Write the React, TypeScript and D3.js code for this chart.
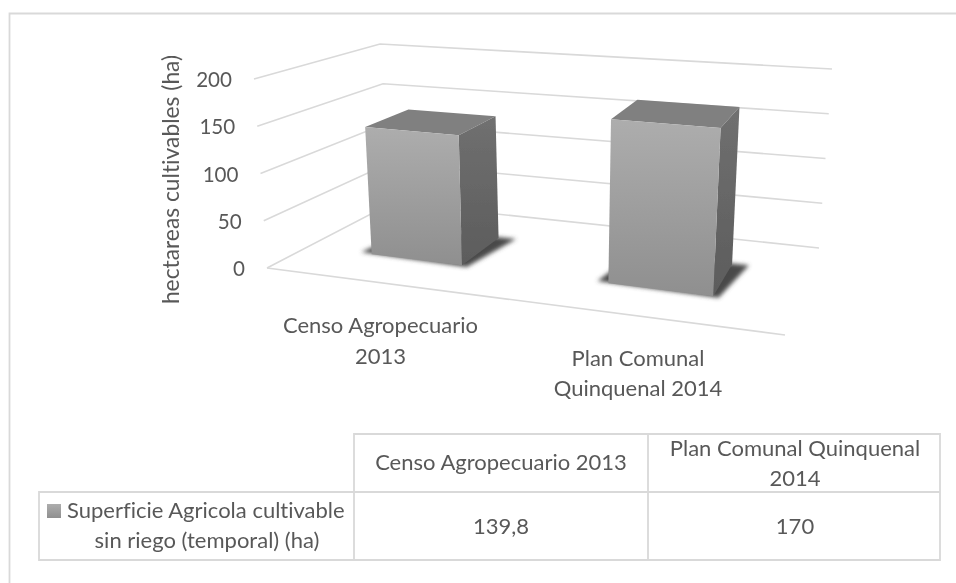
import React from "react";
import * as d3 from "d3";

const categories = ["Censo Agropecuario 2013", "Plan Comunal Quinquenal 2014"];
const categoryLines = [["Censo Agropecuario", "2013"], ["Plan Comunal", "Quinquenal 2014"]];
const values = [139.8, 170];
const valueLabels = ["139,8", "170"];
const ticks = [0, 50, 100, 150, 200];
const seriesLines = ["Superficie Agricola cultivable", "sin riego (temporal) (ha)"];
const yTitle = "hectareas cultivables (ha)";

const W = 956, H = 583;
const FONT = "Lato, 'Open Sans', sans-serif";
const TXT = "#595959";
const GRID = "#d9d9d9";
const FS = 22;
type P = [number, number];
// projected corners of the chart box: floor and top planes (front-left, front-right, back-left, back-right)
const floor: P[] = [[267, 268], [785, 335], [392, 203], [819, 248]];
const roof: P[] = [[254, 79], [798, 122], [380, 44], [832, 69]];

const vScale = d3.scaleLinear().domain([0, 200]).range([0, 1]);
const band = d3.scaleBand<string>().domain(categories).range([0, 1]).padding(0.4);
const b0 = band(categories[0])!, b1 = band(categories[1])!, w = band.bandwidth();
const uWarp = d3.scaleLinear().domain([b0, b0 + w, b1, b1 + w]).range([0.13, 0.315, 0.615, 0.83]);
const depth = [0.33, 0.71];

const mix = (a: P, b: P, t: number): P => [a[0] + (b[0] - a[0]) * t, a[1] + (b[1] - a[1]) * t];
const plane = (q: P[], u: number, d: number) => mix(mix(q[0], q[1], u), mix(q[2], q[3], u), d);
const project = (u: number, d: number, v: number) => mix(plane(floor, u, d), plane(roof, u, d), vScale(v));
const poly = (pts: P[]) => d3.line()(pts)! + "Z";

export default function App() {
  return (
    <svg width={W} height={H} style={{ position: "absolute", left: 0, top: 0, background: "#fff", fontVariantLigatures: "none" }} fontFamily={FONT} fill={TXT}>
      <defs>
        <linearGradient id="front" x1="0" y1="0" x2="0" y2="1">
          <stop offset="0" stopColor="#adadad" /><stop offset="1" stopColor="#8f8f8f" />
        </linearGradient>
        <linearGradient id="side" x1="0" y1="0" x2="0" y2="1">
          <stop offset="0" stopColor="#707070" /><stop offset="1" stopColor="#5c5c5c" />
        </linearGradient>
        <linearGradient id="swatch" x1="0" y1="0" x2="0" y2="1">
          <stop offset="0" stopColor="#adadad" /><stop offset="1" stopColor="#8f8f8f" />
        </linearGradient>
        <filter id="soft" x="-5%" y="-5%" width="110%" height="110%"><feGaussianBlur stdDeviation="0.7" /></filter>
        <filter id="softText" x="-5%" y="-5%" width="110%" height="110%"><feGaussianBlur stdDeviation="0.35" /></filter>
        <filter id="shadow" x="-20%" y="-20%" width="140%" height="140%"><feGaussianBlur stdDeviation="2" /></filter>
      </defs>
      <g filter="url(#soft)">
        {ticks.map((t) => (
          <path key={t} d={d3.line()([project(0, 0, t), project(0, 1, t), project(1, 1, t)])!} fill="none" stroke={GRID} strokeWidth={1.6} />
        ))}
        <path d={d3.line()([project(0, 0, 0), project(1, 0, 0)])!} fill="none" stroke={GRID} strokeWidth={1.6} />
        {categories.map((c, i) => {
          const u0 = uWarp(band(c)!), u1 = uWarp(band(c)! + w);
          const [d0, d1] = depth;
          const v = values[i];
          const e = 0.012;
          return (
            <g key={c}>
              <path d={poly([project(u0 - e * 2, d0 + e, 0), project(u1 + e, d0 - e, 0), project(u1 + e * 3, d1 + e, 0), project(u0, d1, 0)])} fill="#4a4a4a" filter="url(#shadow)" />
              <path d={poly([project(u0, d0, v), project(u1, d0, v), project(u1, d1, v), project(u0, d1, v)])} fill="#808080" />
              <path d={poly([project(u1, d0, v), project(u1, d1, v), project(u1, d1, 0), project(u1, d0, 0)])} fill="url(#side)" />
              <path d={poly([project(u0, d0, v), project(u1, d0, v), project(u1, d0, 0), project(u0, d0, 0)])} fill="url(#front)" />
            </g>
          );
        })}
      </g>
      <g fontSize={FS} filter="url(#softText)">
        {ticks.map((t) => (
          <text key={t} x={project(0, 0, t)[0] - 22} y={project(0, 0, t)[1] + 8} textAnchor="end" fontSize={20.6}>{t}</text>
        ))}
        <text transform="translate(179,179.5) rotate(-90)" textAnchor="middle" fontSize={22.8}>{yTitle}</text>
        {categoryLines[0].map((l, i) => (
          <text key={l} x={380.5} y={333 + i * 31} textAnchor="middle">{l}</text>
        ))}
        {categoryLines[1].map((l, i) => (
          <text key={l} x={638} y={366 + i * 30} textAnchor="middle">{l}</text>
        ))}
        <text x={501} y={470} textAnchor="middle">{categories[0]}</text>
        <text x={795} y={456} textAnchor="middle">Plan Comunal Quinquenal</text>
        <text x={795} y={486} textAnchor="middle">2014</text>
        <text x={501} y={534} textAnchor="middle">{valueLabels[0]}</text>
        <text x={795} y={534} textAnchor="middle">{valueLabels[1]}</text>
        <text x={67} y={518}>{seriesLines[0]}</text>
        <text x={207} y={548} textAnchor="middle">{seriesLines[1]}</text>
      </g>
      <g fill="none" stroke={GRID} strokeWidth={1.8}>
        <path d="M9.5,583V13.5H956" />
        <path d="M354,492V434H940V560H39V492H940M648,434V560M354,492V560" />
      </g>
      <rect x={47} y={504} width={14} height={14} fill="url(#swatch)" />
    </svg>
  );
}
